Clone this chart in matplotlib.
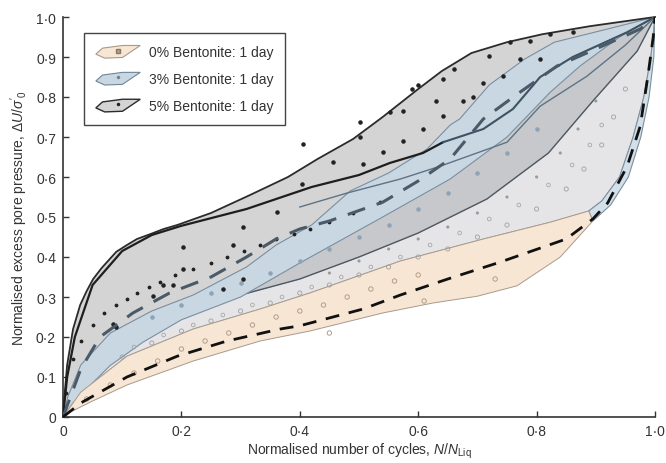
import numpy as np
import matplotlib
matplotlib.use("Agg")
import matplotlib.pyplot as plt
from matplotlib.patches import Polygon, Patch
from matplotlib.lines import Line2D
from matplotlib.legend_handler import HandlerPatch, HandlerTuple

plt.rcParams['font.family'] = ['Liberation Sans', 'DejaVu Sans']
plt.rcParams['mathtext.fontset'] = 'custom'
plt.rcParams['mathtext.rm'] = 'Liberation Sans'
plt.rcParams['mathtext.it'] = 'Liberation Sans:italic'

# ---------------- data ----------------
# 5% bentonite envelope: upper boundary
top5_x = [0, 0.002, 0.007, 0.017, 0.029, 0.04, 0.051, 0.065, 0.079, 0.09, 0.108, 0.125, 0.147, 0.17, 0.193, 0.25, 0.316, 0.38, 0.43, 0.49, 0.54, 0.6, 0.64, 0.69, 0.75, 0.81, 0.89, 1.0]
top5_y = [0, 0.045, 0.13, 0.22, 0.28, 0.315, 0.345, 0.372, 0.395, 0.413, 0.43, 0.445, 0.457, 0.47, 0.48, 0.51, 0.555, 0.6, 0.645, 0.695, 0.75, 0.82, 0.865, 0.91, 0.937, 0.957, 0.977, 1.0]
# 5% envelope lower boundary (dark line)
low5_x = [0, 0.03, 0.1, 0.2, 0.3, 0.4, 0.5, 0.6, 0.716, 0.82, 0.895, 0.94, 0.97, 1.0]
low5_y = [0, 0.10, 0.19, 0.245, 0.305, 0.345, 0.40, 0.46, 0.545, 0.66, 0.79, 0.865, 0.915, 1.0]
# 3% bentonite envelope
top3_x = [0, 0.008, 0.03, 0.08, 0.15, 0.22, 0.31, 0.36, 0.42, 0.485, 0.55, 0.615, 0.654, 0.67, 0.72, 0.78, 0.83, 0.92, 1.0]
top3_y = [0, 0.05, 0.13, 0.21, 0.265, 0.305, 0.375, 0.43, 0.48, 0.565, 0.61, 0.67, 0.73, 0.745, 0.83, 0.895, 0.937, 0.97, 1.0]
low3_x = [0, 0.017, 0.05, 0.079, 0.135, 0.2, 0.3, 0.4, 0.54, 0.654, 0.75, 0.823, 0.873, 0.94, 1.0]
low3_y = [0, 0.035, 0.085, 0.128, 0.187, 0.243, 0.3, 0.385, 0.5, 0.595, 0.70, 0.812, 0.877, 0.95, 1.0]
# 3% envelope right-hand band
band3_out_x = [0.895, 0.925, 0.955, 0.976, 0.99, 0.998, 1.0]
band3_out_y = [0.49, 0.53, 0.60, 0.70, 0.80, 0.90, 1.0]
band3_in_x = [1.0, 0.993, 0.981, 0.963, 0.94, 0.91, 0.888]
band3_in_y = [1.0, 0.90, 0.80, 0.70, 0.60, 0.54, 0.515]
# 0% bentonite envelope
top0_x = [0, 0.03, 0.108, 0.22, 0.333, 0.417, 0.57, 0.71, 0.823, 0.888]
top0_y = [0, 0.062, 0.152, 0.22, 0.27, 0.31, 0.39, 0.445, 0.487, 0.515]
low0_x = [0, 0.012, 0.05, 0.108, 0.22, 0.333, 0.417, 0.54, 0.625, 0.7, 0.767, 0.84, 0.895]
low0_y = [0, 0.012, 0.04, 0.08, 0.14, 0.19, 0.215, 0.26, 0.285, 0.302, 0.328, 0.40, 0.49]

# average trends (dashed)
mean0_x = [0, 0.03, 0.108, 0.193, 0.277, 0.367, 0.4, 0.507, 0.57, 0.65, 0.738, 0.85, 0.895, 0.92, 0.953, 0.975, 0.988, 0.997, 1.0]
mean0_y = [0, 0.035, 0.10, 0.152, 0.19, 0.22, 0.228, 0.27, 0.305, 0.345, 0.387, 0.445, 0.495, 0.535, 0.627, 0.727, 0.852, 0.95, 1.0]
mean3_x = [0, 0.03, 0.0625, 0.118, 0.18, 0.25, 0.31, 0.36, 0.4, 0.45, 0.54, 0.6, 0.654, 0.71, 0.77, 0.834, 0.9, 0.975, 1.0]
mean3_y = [0, 0.12, 0.2, 0.26, 0.31, 0.35, 0.40, 0.445, 0.47, 0.49, 0.537, 0.59, 0.645, 0.745, 0.81, 0.877, 0.92, 0.97, 1.0]

# 5% test record (dense trace)
trace5_x = [0, 0.007, 0.02, 0.05, 0.1, 0.15, 0.2, 0.31, 0.42, 0.5, 0.552, 0.608, 0.642]
trace5_y = [0, 0.10, 0.2, 0.33, 0.415, 0.455, 0.478, 0.52, 0.575, 0.605, 0.635, 0.66, 0.687]
trace3_x = [0.642, 0.71, 0.76, 0.806, 0.861, 0.953, 1.0]
trace3_y = [0.687, 0.72, 0.77, 0.85, 0.90, 0.962, 1.0]
trace3b_x = [0.4, 0.48, 0.57, 0.637, 0.75, 0.806, 0.885, 0.95, 1.0]
trace3b_y = [0.525, 0.56, 0.595, 0.627, 0.687, 0.777, 0.852, 0.93, 1.0]

# 5% dotted test record
dots5_x = [0.005, 0.017, 0.03, 0.05, 0.07, 0.09, 0.108, 0.125, 0.145, 0.164, 0.19, 0.22, 0.25, 0.277, 0.305, 0.333, 0.36, 0.39, 0.417, 0.45, 0.49, 0.535]
dots5_y = [0.06, 0.145, 0.19, 0.23, 0.26, 0.28, 0.295, 0.31, 0.325, 0.337, 0.355, 0.37, 0.385, 0.40, 0.415, 0.43, 0.445, 0.457, 0.47, 0.487, 0.51, 0.537]

# scattered 5% points
sc5_x = [0.203, 0.287, 0.304, 0.361, 0.203, 0.169, 0.186, 0.27, 0.304, 0.152, 0.085, 0.09, 0.405, 0.502, 0.502, 0.507, 0.54, 0.574, 0.574, 0.608, 0.642, 0.642, 0.59, 0.6, 0.552, 0.404, 0.456,
         0.676, 0.693, 0.71, 0.743, 0.772, 0.806, 0.72, 0.755, 0.789, 0.823, 0.861, 0.66, 0.63]
sc5_y = [0.425, 0.43, 0.475, 0.512, 0.37, 0.33, 0.33, 0.32, 0.345, 0.302, 0.232, 0.225, 0.682, 0.737, 0.70, 0.632, 0.662, 0.765, 0.69, 0.72, 0.752, 0.845, 0.82, 0.83, 0.762, 0.582, 0.637,
         0.79, 0.80, 0.835, 0.852, 0.895, 0.895, 0.902, 0.937, 0.94, 0.957, 0.962, 0.87, 0.79]
# 3% test points
sc3_x = [0.15, 0.2, 0.25, 0.3, 0.35, 0.4, 0.45, 0.5, 0.55, 0.6, 0.65, 0.7, 0.75, 0.8]
sc3_y = [0.25, 0.28, 0.31, 0.335, 0.36, 0.39, 0.42, 0.45, 0.48, 0.52, 0.56, 0.61, 0.66, 0.72]
# 0% test points (circles in 0% band)
sc0_x = [0.04, 0.08, 0.12, 0.16, 0.2, 0.24, 0.28, 0.32, 0.36, 0.4, 0.44, 0.48, 0.52, 0.56, 0.6, 0.73, 0.61, 0.45]
sc0_y = [0.045, 0.08, 0.11, 0.14, 0.17, 0.19, 0.21, 0.23, 0.25, 0.265, 0.28, 0.30, 0.32, 0.34, 0.355, 0.345, 0.29, 0.21]
# grey circle records between envelopes
scg1_x = [0.1, 0.15, 0.2, 0.25, 0.3, 0.35, 0.4, 0.45, 0.5, 0.55, 0.6, 0.65, 0.7, 0.75, 0.8, 0.85, 0.88, 0.91, 0.93, 0.95]
scg1_y = [0.15, 0.185, 0.215, 0.24, 0.265, 0.285, 0.31, 0.33, 0.355, 0.375, 0.40, 0.42, 0.45, 0.48, 0.52, 0.57, 0.62, 0.68, 0.75, 0.82]
scg2_x = [0.12, 0.17, 0.22, 0.27, 0.32, 0.37, 0.42, 0.47, 0.52, 0.57, 0.62, 0.67, 0.72, 0.77, 0.82, 0.86, 0.89, 0.91]
scg2_y = [0.175, 0.205, 0.23, 0.255, 0.28, 0.30, 0.325, 0.35, 0.375, 0.40, 0.43, 0.46, 0.495, 0.53, 0.58, 0.63, 0.68, 0.73]
scg3_x = [0.45, 0.5, 0.55, 0.6, 0.65, 0.7, 0.75, 0.8, 0.84, 0.87, 0.9]
scg3_y = [0.36, 0.39, 0.42, 0.445, 0.475, 0.51, 0.55, 0.60, 0.66, 0.72, 0.79]

xticks = [0, 0.2, 0.4, 0.6, 0.8, 1.0]
xtick_labels = ['0', '0·2', '0·4', '0·6', '0·8', '1·0']
yticks = [0, 0.1, 0.2, 0.3, 0.4, 0.5, 0.6, 0.7, 0.8, 0.9, 1.0]
ytick_labels = ['0', '0·1', '0·2', '0·3', '0·4', '0·5', '0·6', '0·7', '0·8', '0·9', '1·0']
legend_labels = ['0% Bentonite: 1 day', '3% Bentonite: 1 day', '5% Bentonite: 1 day']

# ---------------- colours ----------------
C_G = '#d4d4d4'
C_D = '#c6c8cb'
C_L = '#e5e5e7'
C_B = '#c9d7e3'
C_BAND = '#d3dfe9'
C_O = '#f8e6d5'
TXT = '#333333'

fig = plt.figure(figsize=(6.66, 4.64), dpi=100)
ax = fig.add_axes([63/666, 1-418/464, 592/666, 400/464])


def poly(xu, yu, xl, yl, **kw):
    pts = list(zip(xu, yu)) + list(zip(xl[::-1], yl[::-1]))
    p = Polygon(pts, closed=True, **kw)
    ax.add_patch(p)
    return p

# light grey region (between dark line and 0% envelope / right band)
lx = list(top0_x) + list(band3_in_x[::-1])
ly = list(top0_y) + list(band3_in_y[::-1])
ptsL = list(zip(lx, ly)) + list(zip(low5_x[::-1], low5_y[::-1]))
ax.add_patch(Polygon(ptsL, closed=True, facecolor=C_L, edgecolor='#9a9a9a', lw=0.6, zorder=1))
# 5% envelope
poly(top5_x, top5_y, low5_x, low5_y, facecolor=C_G, edgecolor='none', zorder=2)
# darker band under 3% envelope
poly(top3_x, top3_y, low5_x, low5_y, facecolor=C_D, edgecolor='none', zorder=3)
ax.plot(low5_x, low5_y, color='#4d5862', lw=1.0, zorder=3.5)
# 3% envelope
poly(top3_x, top3_y, low3_x, low3_y, facecolor=C_B, edgecolor='#7a8fa0', lw=0.8, zorder=4)
poly(band3_out_x, band3_out_y, band3_in_x[::-1], band3_in_y[::-1], facecolor=C_BAND, edgecolor='#7a8fa0', lw=0.8, zorder=4)
# 0% envelope
poly(top0_x, top0_y, low0_x, low0_y, facecolor=C_O, edgecolor='#a89a8c', lw=0.7, zorder=5)
# 5% upper edge
ax.plot(top5_x, top5_y, color='#2b2b2b', lw=1.3, zorder=6, clip_on=False)

# test records
ax.scatter(scg1_x, scg1_y, s=9, facecolors='none', edgecolors='#a0a0a0', lw=0.6, zorder=6)
ax.scatter(scg2_x, scg2_y, s=7, facecolors='none', edgecolors='#a8a8a8', lw=0.6, zorder=6)
ax.scatter(scg3_x, scg3_y, s=5, facecolors='#9a9a9a', edgecolors='none', zorder=6)
ax.scatter(sc0_x, sc0_y, s=10, facecolors='none', edgecolors='#b49e8a', lw=0.7, zorder=6)
ax.scatter(sc3_x, sc3_y, s=5, color='#8ea3b4', zorder=6)
ax.scatter(sc5_x, sc5_y, s=5, color='#222222', zorder=7)
ax.scatter(dots5_x, dots5_y, s=3, color='#222222', zorder=7)
ax.plot(trace5_x, trace5_y, color='#1e1e1e', lw=1.6, zorder=7)
ax.plot(trace3_x, trace3_y, color='#3e5363', lw=1.5, zorder=7)
ax.plot(trace3b_x, trace3b_y, color='#5d7385', lw=1.0, zorder=7)
ax.plot(mean3_x, mean3_y, color='#4a5a68', lw=2.2, dashes=(6, 4), zorder=8)
ax.plot(mean0_x, mean0_y, color='#111111', lw=2.0, dashes=(5, 3.5), zorder=8)

ax.set_xlim(0, 1)
ax.set_ylim(0, 1)
ax.set_xticks(xticks)
ax.set_xticklabels(xtick_labels)
ax.set_yticks(yticks)
ax.set_yticklabels(ytick_labels)
for s in ['top', 'right']:
    ax.spines[s].set_visible(False)
for s in ['left', 'bottom']:
    ax.spines[s].set_color('#333333')
    ax.spines[s].set_linewidth(1.2)
ax.tick_params(direction='in', length=4, width=1.0, colors='#333333', labelcolor=TXT, labelsize=10, pad=5)
ax.set_xlabel(r'Normalised number of cycles, $N/N_{\mathrm{Liq}}$', fontsize=10, color=TXT, labelpad=2)
ax.set_ylabel(r"Normalised excess pore pressure, $\Delta U/\sigma'_0$", fontsize=10, color=TXT, labelpad=4)


# legend with leaf-shaped patches
def leaf(legend, orig_handle, xdescent, ydescent, width, height, fontsize):
    w, h = width, height
    pts = [(-xdescent + 0.0 * w, -ydescent + 0.30 * h), (-xdescent + 0.2 * w, -ydescent + 0.0 * h),
           (-xdescent + 0.6 * w, -ydescent + 0.05 * h), (-xdescent + 1.0 * w, -ydescent + 0.95 * h),
           (-xdescent + 0.6 * w, -ydescent + 0.95 * h), (-xdescent + 0.15 * w, -ydescent + 0.75 * h)]
    return Polygon(pts, closed=True)

h0 = (Patch(facecolor=C_O, edgecolor='#a89a8c', lw=0.8), Line2D([], [], marker='s', ms=3, mfc='#b49e8a', mec='#8a7868', ls='none'))
h3 = (Patch(facecolor=C_B, edgecolor='#6f8597', lw=0.8), Line2D([], [], marker='o', ms=1.5, color='#6f8597', ls='none'))
h5 = (Patch(facecolor=C_G, edgecolor='#2b2b2b', lw=1.0), Line2D([], [], marker='o', ms=1.5, color='#222222', ls='none'))
leg = ax.legend([h0, h3, h5], legend_labels, loc='upper left', bbox_to_anchor=(0.0355, 0.96),
                handler_map={Patch: HandlerPatch(patch_func=leaf), tuple: HandlerTuple(ndivide=1)},
                fontsize=10, frameon=True, fancybox=False, edgecolor='#444444', framealpha=1,
                handlelength=3.2, handleheight=1.1, handletextpad=0.6, labelspacing=0.9,
                borderpad=0.85, borderaxespad=0)
leg.get_frame().set_linewidth(1.0)
for t in leg.get_texts():
    t.set_color(TXT)
leg.set_zorder(20)

fig.savefig('out.png', dpi=100)
